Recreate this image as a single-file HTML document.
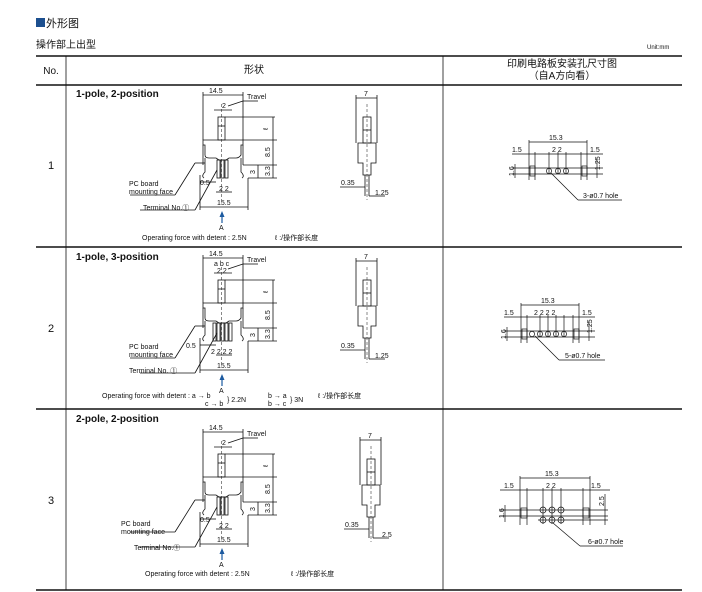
<!DOCTYPE html>
<html><head><meta charset="utf-8"><style>
html,body{margin:0;padding:0;background:#fff;width:702px;height:592px;overflow:hidden}
svg{display:block}
text{font-family:"Liberation Sans","Noto Sans CJK SC",sans-serif;fill:#111}
.s{font-size:7px}
.b{font-size:10px;font-weight:bold}
</style></head><body>
<svg width="702" height="592" viewBox="0 0 702 592" xmlns="http://www.w3.org/2000/svg">
<defs>
<g id="main" stroke="#111" stroke-width="0.8" fill="none">
 <line x1="203" y1="92" x2="203" y2="140"/><line x1="243" y1="92" x2="243" y2="140"/>
 <line x1="203" y1="95" x2="243" y2="95"/>
 <line x1="243" y1="101" x2="258" y2="101"/>
 <line x1="243" y1="101" x2="228" y2="106"/>
 <line x1="214" y1="110" x2="232" y2="110"/>
 <rect x="218" y="117" width="7" height="23"/>
 <line x1="218" y1="126" x2="225" y2="126"/>
 <line x1="221.5" y1="104" x2="221.5" y2="200" stroke-dasharray="3,2" stroke-width="0.5"/>
 <line x1="225" y1="117" x2="275" y2="117"/>
 <path d="M203 140 H243 V145 H241 V155 Q239 158 236 158 H229 L226 160 H219 L216 158 H209 Q205 158 205 155 V145 H203 Z"/>
 <path d="M205 158 V172 Q201 176 204 178 M241 158 V172 Q245 176 242 178"/>
 <path d="M203 145 V165 M243 145 V165"/>
 <rect x="217" y="160" width="3" height="18"/><rect x="221" y="160" width="3" height="18"/><rect x="225" y="160" width="3" height="18"/>
 <line x1="243" y1="140" x2="277" y2="140"/><line x1="243" y1="165" x2="277" y2="165"/>
 <line x1="248" y1="178" x2="277" y2="178"/>
 <line x1="273" y1="117" x2="273" y2="178"/>
 <line x1="258" y1="165" x2="258" y2="178"/>
 <line x1="200" y1="182" x2="216" y2="182"/>
 <line x1="216" y1="192" x2="232" y2="192"/>
 <line x1="200" y1="175" x2="200" y2="210"/><line x1="248" y1="178" x2="248" y2="210"/>
 <line x1="200" y1="207" x2="248" y2="207"/>
 <line x1="195" y1="163" x2="205" y2="163"/>
 <line x1="195" y1="163" x2="175" y2="195"/>
 <line x1="217" y1="170" x2="195" y2="210"/><line x1="195" y1="210" x2="140" y2="210"/>
 <line x1="130" y1="195" x2="175" y2="195"/>
 <line x1="222" y1="216" x2="222" y2="223" stroke="#1c5aa0" stroke-width="1.2"/>
 <path d="M219.5 217 L222 211 L224.5 217 Z" fill="#1c5aa0" stroke="none"/>
</g>
<g id="side" stroke="#111" stroke-width="0.8" fill="none">
 <line x1="356" y1="95" x2="356" y2="143"/><line x1="377" y1="95" x2="377" y2="143"/>
 <line x1="356" y1="98" x2="377" y2="98"/>
 <line x1="367" y1="104" x2="367" y2="200" stroke-dasharray="3,2" stroke-width="0.5"/>
 <rect x="363" y="117" width="8" height="26"/><line x1="363" y1="130" x2="371" y2="130"/>
 <path d="M358 143 H376 V163 H371 V175 H363 V163 H358 Z"/>
 <line x1="365" y1="175" x2="365" y2="196"/><line x1="369" y1="175" x2="369" y2="196"/>
 <line x1="340" y1="187" x2="365" y2="187"/><line x1="369" y1="196" x2="385" y2="196"/>
</g>
</defs>

<rect x="36" y="18" width="9" height="9" fill="#1c4f8f"/>
<text x="46" y="27" style="font-size:11px">外形图</text>
<text x="36" y="48" style="font-size:10px">操作部上出型</text>
<text x="647" y="49" style="font-size:6px">Unit:mm</text>

<g stroke="#111" fill="none">
<line x1="36" y1="56" x2="682" y2="56" stroke-width="1.5"/>
<line x1="36" y1="85" x2="682" y2="85" stroke-width="1.5"/>
<line x1="36" y1="247" x2="682" y2="247" stroke-width="1.5"/>
<line x1="36" y1="409" x2="682" y2="409" stroke-width="1.5"/>
<line x1="36" y1="590" x2="682" y2="590" stroke-width="1.5"/>
<line x1="66" y1="56" x2="66" y2="590" stroke-width="0.8"/>
<line x1="443" y1="56" x2="443" y2="590" stroke-width="0.8"/>
</g>
<text x="51" y="74" text-anchor="middle" style="font-size:10px">No.</text>
<text x="254" y="73" text-anchor="middle" style="font-size:10px">形状</text>
<text x="562" y="67" text-anchor="middle" style="font-size:10px">印刷电路板安装孔尺寸图</text>
<text x="562" y="79" text-anchor="middle" style="font-size:10px">（自A方向看）</text>

<text x="51" y="169" text-anchor="middle" style="font-size:11px">1</text>
<text x="51" y="332" text-anchor="middle" style="font-size:11px">2</text>
<text x="51" y="504" text-anchor="middle" style="font-size:11px">3</text>

<text x="76" y="97" class="b">1-pole, 2-position</text>
<use href="#main"/>
<use href="#side"/>
<g class="s">
<text x="209" y="93" class="s">14.5</text><text x="247" y="99" class="s">Travel</text>
<text x="222" y="108" class="s">2</text>
<text x="268" y="130" class="s" transform="rotate(-90 268 130)">ℓ</text>
<text x="270" y="157" class="s" transform="rotate(-90 270 157)">8.5</text>
<text x="270" y="176" class="s" transform="rotate(-90 270 176)">3.3</text>
<text x="255" y="174" class="s" transform="rotate(-90 255 174)">3</text>
<text x="200" y="185" class="s">0.5</text><text x="219" y="191" class="s">2 2</text>
<text x="217" y="205" class="s">15.5</text>
<text x="219" y="230" class="s" fill="#1c5aa0">A</text>
<text x="129" y="186" class="s">PC board</text><text x="129" y="194" class="s">mounting  face</text>
<text x="143" y="210" class="s">Terminal  No.①</text>
<text x="142" y="240" class="s">Operating  force  with  detent : 2.5N</text>
<text x="275" y="240" class="s">ℓ :/操作部长度</text>
<text x="364" y="96" class="s">7</text>
<text x="341" y="185" class="s">0.35</text><text x="375" y="195" class="s">1.25</text>
</g>
<g stroke="#111" stroke-width="0.7" fill="none">
<line x1="529" y1="142" x2="587" y2="142"/>
<line x1="529" y1="140" x2="529" y2="180"/><line x1="587" y1="140" x2="587" y2="180"/>
<line x1="512" y1="154" x2="603" y2="154"/>
<line x1="535" y1="152" x2="535" y2="180"/><line x1="581" y1="152" x2="581" y2="180"/>
<line x1="549" y1="152" x2="549" y2="174"/><line x1="558" y1="152" x2="558" y2="174"/><line x1="566" y1="152" x2="566" y2="174"/>
<line x1="512" y1="168" x2="603" y2="168"/><line x1="512" y1="174" x2="603" y2="174"/>
<line x1="515" y1="164" x2="515" y2="178"/><line x1="597" y1="158" x2="597" y2="178"/>
<rect x="530" y="166" width="5" height="10"/><rect x="582" y="166" width="5" height="10"/>
<circle cx="549" cy="171" r="2.6"/><circle cx="558" cy="171" r="2.6"/><circle cx="566" cy="171" r="2.6"/>
<line x1="551" y1="173" x2="578" y2="200"/><line x1="578" y1="200" x2="622" y2="200"/>
</g>
<g class="s">
<text x="549" y="140" class="s">15.3</text><text x="512" y="152" class="s">1.5</text><text x="590" y="152" class="s">1.5</text>
<text x="552" y="152" class="s">2 2</text>
<text x="514" y="176" class="s" transform="rotate(-90 514 176)">1.6</text>
<text x="600" y="170" class="s" transform="rotate(-90 600 170)">1.25</text>
<text x="583" y="198" class="s">3-ø0.7 hole</text>
</g>

<text x="76" y="260" class="b">1-pole, 3-position</text>
<g transform="translate(0,163)"><use href="#main"/><use href="#side"/>
<g stroke="#111" stroke-width="0.8" fill="none"><rect x="229" y="160" width="3" height="18"/><rect x="213" y="160" width="3" height="18"/></g>
<text x="209" y="93" class="s">14.5</text><text x="247" y="99" class="s">Travel</text>
<text x="214" y="103" class="s">a b c</text><text x="217" y="110" class="s">2 2</text>
<text x="268" y="130" class="s" transform="rotate(-90 268 130)">ℓ</text>
<text x="270" y="157" class="s" transform="rotate(-90 270 157)">8.5</text>
<text x="270" y="176" class="s" transform="rotate(-90 270 176)">3.3</text>
<text x="255" y="174" class="s" transform="rotate(-90 255 174)">3</text>
<text x="186" y="185" class="s">0.5</text><text x="211" y="191" class="s">2 2 2 2</text>
<text x="217" y="205" class="s">15.5</text>
<text x="219" y="230" class="s" fill="#1c5aa0">A</text>
<text x="129" y="186" class="s">PC board</text><text x="129" y="194" class="s">mounting  face</text>
<text x="129" y="210" class="s">Terminal  No. ①</text>
<text x="364" y="96" class="s">7</text>
<text x="341" y="185" class="s">0.35</text><text x="375" y="195" class="s">1.25</text>
</g>
<text x="102" y="398" class="s">Operating  force  with  detent : a → b</text>
<text x="205" y="406" class="s">c → b</text><text x="227" y="402" class="s">} 2.2N</text>
<text x="268" y="398" class="s">b → a</text><text x="268" y="406" class="s">b → c</text><text x="290" y="402" class="s">} 3N</text>
<text x="318" y="398" class="s">ℓ :/操作部长度</text>
<g transform="translate(-10,163)" stroke="#111" stroke-width="0.7" fill="none">
<line x1="531" y1="142" x2="589" y2="142"/>
<line x1="531" y1="140" x2="531" y2="180"/><line x1="589" y1="140" x2="589" y2="180"/>
<line x1="514" y1="154" x2="605" y2="154"/>
<line x1="537" y1="152" x2="537" y2="180"/><line x1="583" y1="152" x2="583" y2="180"/>
<line x1="550" y1="152" x2="550" y2="174"/><line x1="558" y1="152" x2="558" y2="174"/><line x1="566" y1="152" x2="566" y2="174"/><line x1="574" y1="152" x2="574" y2="174"/>
<line x1="514" y1="168" x2="605" y2="168"/><line x1="514" y1="174" x2="605" y2="174"/>
<line x1="517" y1="164" x2="517" y2="178"/><line x1="599" y1="158" x2="599" y2="178"/>
<rect x="532" y="166" width="5" height="10"/><rect x="584" y="166" width="5" height="10"/>
<circle cx="542" cy="171" r="2.6"/><circle cx="550" cy="171" r="2.6"/><circle cx="558" cy="171" r="2.6"/><circle cx="566" cy="171" r="2.6"/><circle cx="574" cy="171" r="2.6"/>
<line x1="545" y1="173" x2="569" y2="197"/><line x1="569" y1="197" x2="615" y2="197"/>
</g>
<g transform="translate(-10,163)">
<text x="551" y="140" class="s">15.3</text><text x="514" y="152" class="s">1.5</text><text x="592" y="152" class="s">1.5</text>
<text x="544" y="152" class="s">2 2 2 2</text>
<text x="516" y="176" class="s" transform="rotate(-90 516 176)">1.6</text>
<text x="602" y="170" class="s" transform="rotate(-90 602 170)">1.25</text>
<text x="575" y="195" class="s">5-ø0.7 hole</text>
</g>

<text x="76" y="422" class="b">2-pole, 2-position</text>
<g transform="translate(0,337)"><use href="#main"/>
<text x="209" y="93" class="s">14.5</text><text x="247" y="99" class="s">Travel</text>
<text x="222" y="108" class="s">2</text>
<text x="268" y="130" class="s" transform="rotate(-90 268 130)">ℓ</text>
<text x="270" y="157" class="s" transform="rotate(-90 270 157)">8.5</text>
<text x="270" y="176" class="s" transform="rotate(-90 270 176)">3.3</text>
<text x="255" y="174" class="s" transform="rotate(-90 255 174)">3</text>
<text x="200" y="185" class="s">0.5</text><text x="219" y="191" class="s">2 2</text>
<text x="217" y="205" class="s">15.5</text>
<text x="219" y="230" class="s" fill="#1c5aa0">A</text>
<text x="121" y="189" class="s">PC board</text><text x="121" y="197" class="s">mounting  face</text>
<text x="134" y="213" class="s">Terminal  No.①</text>
</g>
<g transform="translate(4,342)"><use href="#side"/>
<text x="364" y="96" class="s">7</text>
<text x="341" y="185" class="s">0.35</text><text x="378" y="195" class="s">2.5</text></g>
<text x="145" y="576" class="s">Operating  force  with  detent : 2.5N</text>
<text x="291" y="576" class="s">ℓ :/操作部长度</text>
<g stroke="#111" stroke-width="0.7" fill="none">
<line x1="520" y1="478" x2="590" y2="478"/>
<line x1="520" y1="476" x2="520" y2="525"/><line x1="590" y1="476" x2="590" y2="525"/>
<line x1="500" y1="490" x2="610" y2="490"/>
<line x1="527" y1="488" x2="527" y2="525"/><line x1="583" y1="488" x2="583" y2="525"/>
<line x1="543" y1="488" x2="543" y2="524"/><line x1="552" y1="488" x2="552" y2="524"/><line x1="561" y1="488" x2="561" y2="524"/>
<line x1="500" y1="510" x2="608" y2="510"/><line x1="500" y1="516" x2="608" y2="516"/><line x1="538" y1="520" x2="608" y2="520"/>
<line x1="505" y1="505" x2="505" y2="522"/><line x1="605" y1="494" x2="605" y2="525"/>
<rect x="521" y="508" width="6" height="10"/><rect x="583" y="508" width="6" height="10"/>
<circle cx="543" cy="510" r="3"/><circle cx="552" cy="510" r="3"/><circle cx="561" cy="510" r="3"/>
<circle cx="543" cy="520" r="3"/><circle cx="552" cy="520" r="3"/><circle cx="561" cy="520" r="3"/>
<line x1="553" y1="523" x2="580" y2="546"/><line x1="580" y1="546" x2="623" y2="546"/>
</g>
<text x="545" y="476" class="s">15.3</text><text x="504" y="488" class="s">1.5</text><text x="591" y="488" class="s">1.5</text>
<text x="546" y="488" class="s">2 2</text>
<text x="504" y="518" class="s" transform="rotate(-90 504 518)">1.6</text>
<text x="604" y="506" class="s" transform="rotate(-90 604 506)">2.5</text>
<text x="588" y="544" class="s">6-ø0.7 hole</text>
</svg>
</body></html>
